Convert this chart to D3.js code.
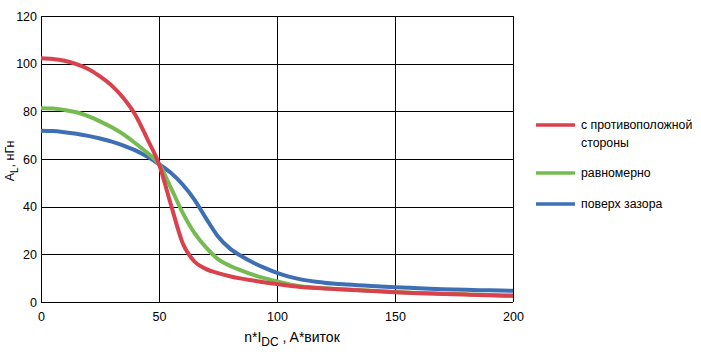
<!DOCTYPE html>
<html><head><meta charset="utf-8">
<script src="https://cdn.jsdelivr.net/npm/d3@7"></script>
<style>body{margin:0;background:#fff}svg{display:block}text{font-family:"Liberation Sans",Arial,sans-serif;fill:#000}</style>
</head><body><svg id="c" width="701" height="355"></svg>
<script>
const xValues = [0,5,10,15,20,25,30,35,40,45,50,55,60,65,70,75,80,85,90,95,100,110,120,130,140,150,160,170,180,190,200];
const redValues = [102.3,102,101.2,99.8,97.8,94.7,90.8,85.5,78.5,68.5,57.8,41,24.8,17,13.8,12.1,10.8,9.8,9.0,8.2,7.5,6.3,5.7,5.1,4.6,4.1,3.7,3.4,3.1,2.8,2.6];
const greenValues = [81.3,81.2,80.6,79.6,78,75.8,73.3,70.3,66.6,62.6,57.8,48,37.5,29,22.8,18,15.2,13.2,11.4,9.9,8.6,6.6,5.8,5.2,4.7,4.2,3.8,3.5,3.2,2.9,2.7];
const blueValues = [71.9,71.7,71.2,70.6,69.7,68.6,67.3,65.6,63.6,61,57.8,54.2,49.3,43,35,27.5,22.5,19.2,16.5,14.2,12.2,9.5,8.1,7.3,6.7,6.2,5.8,5.4,5.1,4.9,4.7];
const seriesNames = ["с противоположной стороны","равномерно","поверх зазора"];
const seriesColors = ["#d9414c","#76bb52","#3e6fb5"];
const xTicks = [0,50,100,150,200];
const yTicks = [0,20,40,60,80,100,120];

const svg = d3.select("#c");
const x = d3.scaleLinear().domain([0,200]).range([41,513]);
const y = d3.scaleLinear().domain([0,120]).range([302,16]);

// grid
const g = svg.append("g");
g.selectAll(".hg").data(yTicks).join("line")
  .attr("x1",x(0)).attr("x2",x(200)).attr("y1",d=>Math.round(y(d))+0.5).attr("y2",d=>Math.round(y(d))+0.5)
  .attr("stroke","#000").attr("stroke-width",1);
g.selectAll(".vg").data(xTicks).join("line")
  .attr("y1",y(0)).attr("y2",y(120)).attr("x1",d=>Math.round(x(d))+0.5).attr("x2",d=>Math.round(x(d))+0.5)
  .attr("stroke","#000").attr("stroke-width",1);

// axes labels via d3 axes
const xAxis = svg.append("g").attr("transform",`translate(0,${y(0)})`)
  .call(d3.axisBottom(x).tickValues(xTicks).tickSize(0).tickPadding(10));
xAxis.select(".domain").remove();
xAxis.selectAll("text").attr("font-size",12.5).style("font-family","Liberation Sans, Arial");
const yAxis = svg.append("g").attr("transform",`translate(${x(0)},0)`)
  .call(d3.axisLeft(y).tickValues(yTicks).tickSize(0).tickPadding(4));
yAxis.select(".domain").remove();
yAxis.selectAll("text").attr("font-size",12.5).style("font-family","Liberation Sans, Arial");

// curves
const allSeries = [redValues, greenValues, blueValues];
const line = d3.line().x((d,i)=>x(xValues[i])).y(d=>y(d)).curve(d3.curveMonotoneX);
[2,1,0].forEach(k=>{
  svg.append("path").datum(allSeries[k]).attr("d",line)
    .attr("fill","none").attr("stroke",seriesColors[k]).attr("stroke-width",4)
    .attr("stroke-linejoin","round");
});

// axis titles
const xt = svg.append("text").attr("x",292).attr("y",342).attr("text-anchor","middle").attr("font-size",14);
xt.append("tspan").text("n*I");
xt.append("tspan").attr("dy",4).attr("font-size",12).text("DC");
xt.append("tspan").attr("dy",-4).text(" , A*виток");
const yt = svg.append("text").attr("transform","translate(14,161) rotate(-90)").attr("text-anchor","middle").attr("font-size",12.5);
yt.append("tspan").text("A");
yt.append("tspan").attr("dy",4).attr("font-size",10).text("L");
yt.append("tspan").attr("dy",-4).text(", нГн");

// legend
const legY = [125,173,204];
const lg = svg.append("g");
seriesNames.forEach((n,i)=>{
  lg.append("line").attr("x1",536).attr("x2",575).attr("y1",legY[i]).attr("y2",legY[i])
    .attr("stroke",seriesColors[i]).attr("stroke-width",3.5);
});
const t0 = lg.append("text").attr("x",581).attr("y",legY[0]+4).attr("font-size",12.3);
t0.append("tspan").attr("x",581).text("с противоположной");
t0.append("tspan").attr("x",581).attr("dy",18).text("стороны");
lg.append("text").attr("x",581).attr("y",legY[1]+4).attr("font-size",12.3).text(seriesNames[1]);
lg.append("text").attr("x",581).attr("y",legY[2]+4).attr("font-size",12.3).text(seriesNames[2]);
</script></body></html>
